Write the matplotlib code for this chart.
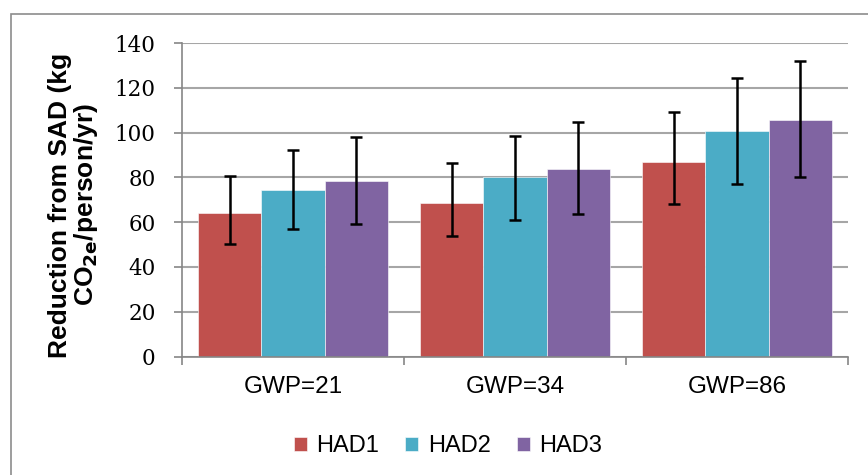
import numpy as np
import matplotlib
matplotlib.use("Agg")
import matplotlib.pyplot as plt
from matplotlib.patches import Rectangle

# data
groups = ["GWP=21", "GWP=34", "GWP=86"]
series = ["HAD1", "HAD2", "HAD3"]
had1 = [64.3, 68.7, 86.9]
had2 = [74.2, 80.0, 100.5]
had3 = [78.3, 83.9, 105.8]
# error bar ends (low, high)
had1_low = [50.4, 54.0, 68.0]
had1_high = [80.8, 86.5, 109.3]
had2_low = [56.9, 61.0, 76.9]
had2_high = [92.3, 98.5, 124.5]
had3_low = [59.3, 63.5, 80.2]
had3_high = [97.8, 104.8, 132.1]
yticks = [0, 20, 40, 60, 80, 100, 120, 140]

colors = ["#C0504D", "#4BACC6", "#8064A2"]
values = [had1, had2, had3]
lows = [had1_low, had2_low, had3_low]
highs = [had1_high, had2_high, had3_high]

fig = plt.figure(figsize=(8.68, 4.75), dpi=100)
ax = fig.add_axes([182 / 868, 1 - 356.5 / 475, 666 / 868, 313.5 / 475])

# outer chart frame (right and bottom edges run off the picture)
fig.patches.append(Rectangle((11 / 868, -0.2), 1.2, 1.2 - 13.5 / 475,
                             transform=fig.transFigure, fill=False,
                             edgecolor="#8c8c8c", linewidth=1.2))

x = np.arange(len(groups))
w = 0.2853
for i in range(3):
    v = np.array(values[i])
    err = [v - np.array(lows[i]), np.array(highs[i]) - v]
    ax.bar(x + (i - 1) * w, v, w, color=colors[i], edgecolor="white",
           linewidth=0.4, label=series[i], zorder=2,
           yerr=err, error_kw=dict(ecolor="black", elinewidth=1.8,
                                   capsize=4.5, capthick=1.8, zorder=3))

ax.set_xlim(-0.5, 2.5)
ax.set_ylim(0, 140)
ax.set_yticks(yticks)
ax.set_yticklabels([str(t) for t in yticks], family="DejaVu Serif", fontsize=15.5)
ax.tick_params(axis="y", length=6, width=1.2, color="#868686", pad=13)

ax.set_xticks([-0.5, 0.5, 1.5, 2.5])
ax.set_xticklabels([])
ax.set_xticks(x, minor=True)
ax.set_xticklabels(groups, minor=True, family="Liberation Sans", fontsize=17.5)
ax.tick_params(axis="x", which="major", length=6, width=1.2, color="#868686")
ax.tick_params(axis="x", which="minor", length=0, pad=14)

ax.grid(axis="y", color="#a6a6a6", linewidth=1.5, zorder=0)
ax.set_axisbelow(True)
for s in ["top", "right"]:
    ax.spines[s].set_visible(False)
for s in ["left", "bottom"]:
    ax.spines[s].set_color("#868686")
    ax.spines[s].set_linewidth(1.2)

ax.set_ylabel("Reduction from SAD (kg\nCO$_{\\mathbf{2e}}$/person/yr)",
              family="Liberation Sans", fontsize=19, fontweight="bold",
              linespacing=1.0)
ax.yaxis.set_label_coords(100 / 868, 1 - 205 / 475, transform=fig.transFigure)

fig.legend(loc="center", bbox_to_anchor=(448 / 868, 1 - 446 / 475), ncol=3,
           frameon=False, prop=dict(family="Liberation Sans", size=17),
           handlelength=0.55, handleheight=0.55, handletextpad=0.4,
           columnspacing=1.1)

fig.savefig("out.png", dpi=100)
